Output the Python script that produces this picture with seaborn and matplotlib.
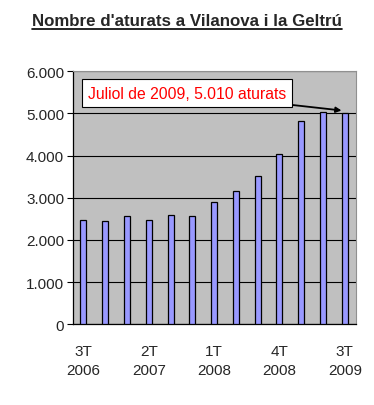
import matplotlib
matplotlib.use("Agg")
import matplotlib.pyplot as plt
import matplotlib.ticker as mticker
from matplotlib.lines import Line2D
import seaborn as sns
import pandas as pd

# Data
quarters = ["3T 2006", "4T 2006", "1T 2007", "2T 2007", "3T 2007", "4T 2007",
            "1T 2008", "2T 2008", "3T 2008", "4T 2008", "1T 2009", "2T 2009", "3T 2009"]
aturats = [2480, 2450, 2570, 2480, 2600, 2570, 2910, 3150, 3510, 4040, 4830, 5030, 5010]
label_every = 3
y_ticks = [0, 1000, 2000, 3000, 4000, 5000, 6000]

title = "Nombre d'aturats a Vilanova i la Geltrú"
note = "Juliol de 2009, 5.010 aturats"

df = pd.DataFrame({"quarter": quarters, "aturats": aturats})

sns.set_style("white")
plt.rcParams['font.family'] = ['Liberation Sans', 'DejaVu Sans']

fig = plt.figure(figsize=(3.74, 4.06), dpi=100)
ax = fig.add_axes([0.194, 0.199, 0.757, 0.623])

sns.barplot(data=df, x="quarter", y="aturats", ax=ax, color="#9999FF",
            saturation=1, width=0.28, edgecolor="black", linewidth=0.9, zorder=3)

ax.set_facecolor("#C0C0C0")
ax.set_ylim(0, 6000)
ax.set_xlim(-0.5, len(quarters) - 0.5)
ax.set_yticks(y_ticks)
ax.yaxis.set_major_formatter(mticker.FuncFormatter(lambda v, p: f"{int(v):,}".replace(",", ".")))
ax.grid(axis="y", color="black", linewidth=0.8, zorder=1)
ax.set_axisbelow(True)

# category labels every third quarter, ticks between categories
idx = list(range(0, len(quarters), label_every))
ax.set_xticks(idx)
ax.set_xticklabels([quarters[i].replace(" ", "\n") for i in idx], linespacing=1.45)
ax.set_xticks([i - 0.5 for i in range(len(quarters) + 1)], minor=True)
ax.tick_params(axis="x", which="major", length=0, pad=14, labelsize=11)
ax.tick_params(axis="x", which="minor", length=4, width=0.8, color="black", direction="out")
ax.tick_params(axis="y", length=4, width=0.8, color="black", direction="out",
               labelsize=11, pad=2, left=True)
ax.set_xlabel("")
ax.set_ylabel("")

for s in ["left", "bottom"]:
    ax.spines[s].set_color("black")
    ax.spines[s].set_linewidth(0.9)
for s in ["top", "right"]:
    ax.spines[s].set_color("#909090")
    ax.spines[s].set_linewidth(0.8)

# annotation for the last quarter
last = len(quarters) - 1
ax.annotate(note, xy=(last - 0.15, aturats[last] + 60), xytext=(0.2, 5480),
            textcoords="data", color="#FF0000", fontsize=11.3, va="center", ha="left",
            bbox=dict(boxstyle="square,pad=0.4", fc="white", ec="black", lw=0.8),
            arrowprops=dict(arrowstyle="-|>", color="black", lw=1.3,
                            mutation_scale=8, shrinkA=0, shrinkB=0),
            zorder=5)

# underlined bold title
t = fig.text(0.5, 0.948, title, ha="center", va="center", fontsize=12.2, fontweight="bold")
fig.canvas.draw()
bb = t.get_window_extent().transformed(fig.transFigure.inverted())
fig.add_artist(Line2D([bb.x0, bb.x1], [bb.y0 - 0.003, bb.y0 - 0.003],
                      color="black", lw=1.2, transform=fig.transFigure))

fig.savefig("out.png", dpi=100)
